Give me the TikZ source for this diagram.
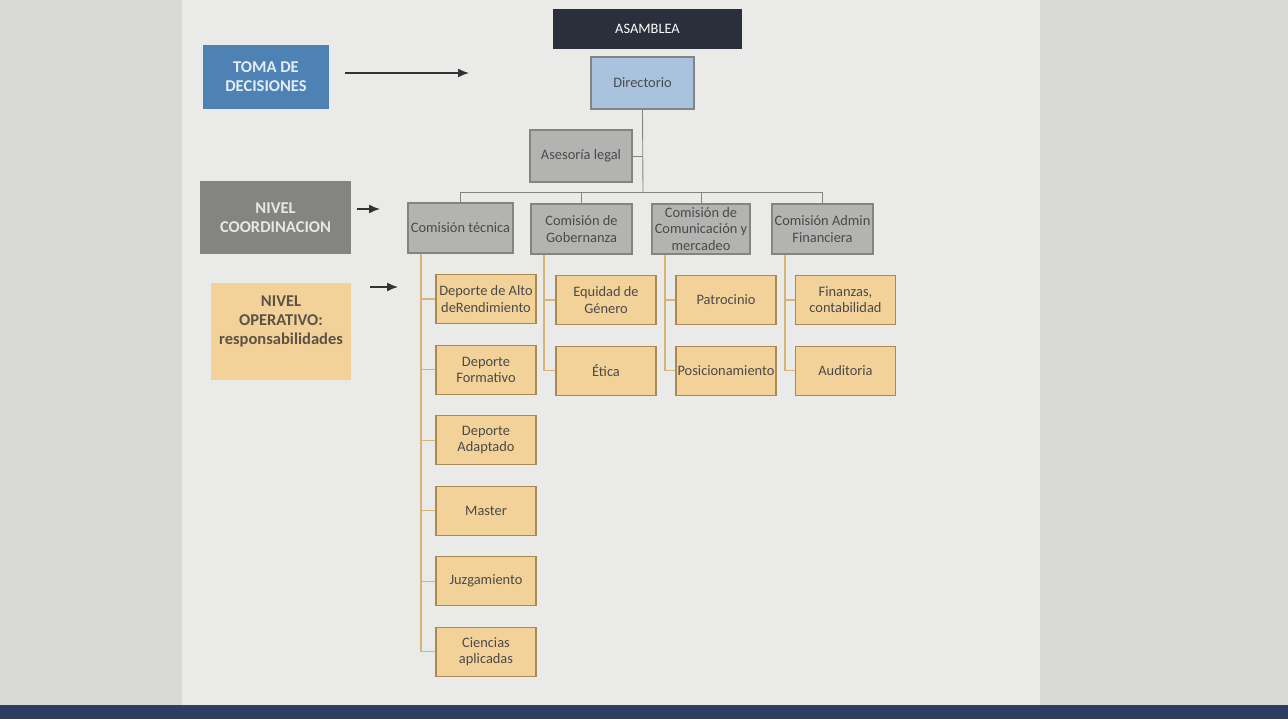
\documentclass[tikz,border=0pt]{standalone}
\usepackage{fontspec}
\setmainfont{Carlito}
\usepackage{xcolor}
\usetikzlibrary{positioning,calc,arrows.meta}
\definecolor{navy}{HTML}{2B2E3B}
\definecolor{blueunit}{HTML}{4F82B4}
\definecolor{lightblue}{HTML}{A9C3DF}
\definecolor{grayfill}{HTML}{B3B3B2}
\definecolor{darkgray}{HTML}{848483}
\definecolor{tanfill}{HTML}{F2D299}
\definecolor{tanborder}{HTML}{A98A55}
\definecolor{tanline}{HTML}{D9B574}
\definecolor{boxtext}{HTML}{4A4A4A}
\definecolor{desk}{HTML}{D9D9D7}
\definecolor{sheet}{HTML}{EAEAE8}
\definecolor{taskbar}{HTML}{2C3F62}
\newcommand{\boxfont}{\fontsize{8.2}{9.2}\selectfont}
\newcommand{\nivelfont}{\fontsize{9.4}{10.8}\selectfont\bfseries}
\tikzset{
	unit/.style={draw=darkgray, fill=grayfill, text=boxtext, align=center, font=\boxfont, inner sep=0.5pt, line width=0.6pt},
	comision/.style={unit, minimum height=1.0cm},
	area/.style={unit, fill=tanfill, draw=tanborder, minimum width=2.0cm, minimum height=0.98cm},
	nivel/.style={unit, font=\nivelfont, draw=none},
	topline/.style={draw=darkgray, line width=0.5pt},
	subline/.style={draw=tanline, line width=0.6pt},
	levelarrow/.style={draw=black!80, line width=0.8pt, -{Latex[length=0.22cm,width=0.18cm]}}
}
\newcommand{\connectarea}[2]{
	\draw[subline] ($(#1.south west)+(0.27cm,0)$) |- (#2.west);
}

\begin{document}
\begin{tikzpicture}[x=0.02cm, y=-0.02cm]
	% fondo
	\fill[desk] (0,0) rectangle (1288,719);
	\fill[sheet] (182,0) rectangle (1040,705);
	\fill[taskbar] (0,705) rectangle (1288,719);
	\useasboundingbox (0,0) rectangle (1288,719);

	% niveles
	\node[nivel, fill=blueunit, text=white!85!blueunit, minimum width=2.52cm, minimum height=1.28cm] (toma) at (266,77) {TOMA DE\\DECISIONES};
	\node[nivel, fill=darkgray, text=white!80!darkgray, minimum width=3.02cm, minimum height=1.46cm] (nivel-coord) at (275.5,217.5) {NIVEL\\COORDINACION};
	\node[nivel, fill=tanfill, text=boxtext!85!brown, minimum width=2.8cm, minimum height=1.94cm, text depth=0.45cm] (nivel-op) at (281,331.5) {NIVEL\\OPERATIVO:\\responsabilidades};

	\coordinate (toma-start) at (345,73);
	\coordinate (toma-end) at (469,73);
	\coordinate (coord-start) at (357,209);
	\coordinate (coord-end) at (380,209);
	\coordinate (op-start) at (370,287);
	\coordinate (op-end) at (398,287);
	\draw[levelarrow] (toma-start) -- (toma-end);
	\draw[levelarrow] (coord-start) -- (coord-end);
	\draw[levelarrow] (op-start) -- (op-end);

	% direccion
	\node[unit, fill=navy, draw=navy, text=white, minimum width=3.74cm, minimum height=0.76cm] (asamblea) at (647.5,29) {ASAMBLEA};
	\node[unit, fill=lightblue, draw=darkgray, minimum width=2.06cm, minimum height=1.04cm] (directorio) at (642.5,83) {Directorio};
	\node[unit, minimum width=2.04cm, minimum height=1.04cm] (asesoria) at (581,156) {Asesoría legal};

	% comisiones
	\node[comision, minimum width=2.1cm] (com-tecnica) at (460.5,228) {Comisión técnica};
	\node[comision, minimum width=2.02cm] (com-gobernanza) at (581.5,229) {Comisión de\\Gobernanza};
	\node[comision, minimum width=1.96cm] (com-comunicacion) at (701,229) {Comisión de\\Comunicación y\\mercadeo};
	\node[comision, minimum width=2.02cm] (com-admin) at (822.5,229) {Comisión Admin\\Financiera};

	\coordinate (bus) at (643,192);
	\draw[topline] (directorio.south) -- (bus);
	\draw[topline] (asesoria.east) -- (asesoria.east -| bus);
	\draw[topline] (bus) -| (com-tecnica.north);
	\draw[topline] (bus) -| (com-gobernanza.north);
	\draw[topline] (bus) -| (com-comunicacion.north);
	\draw[topline] (bus) -| (com-admin.north);

	% comision tecnica
	\node[area] (tec-1) at (486,299) {Deporte de Alto\\deRendimiento};
	\node[area, below=0.41cm of tec-1] (tec-2) {Deporte\\Formativo};
	\node[area, below=0.41cm of tec-2] (tec-3) {Deporte\\Adaptado};
	\node[area, below=0.41cm of tec-3] (tec-4) {Master};
	\node[area, below=0.41cm of tec-4] (tec-5) {Juzgamiento};
	\node[area, below=0.41cm of tec-5] (tec-6) {Ciencias\\aplicadas};

	% gobernanza
	\node[area] (gob-1) at (606,300) {Equidad de\\Género};
	\node[area, below=0.41cm of gob-1] (gob-2) {Ética};

	% comunicacion
	\node[area] (com-1) at (726,300) {Patrocinio};
	\node[area, below=0.41cm of com-1] (com-2) {Posicionamiento};

	% admin financiera
	\node[area] (adm-1) at (845.5,300) {Finanzas,\\contabilidad};
	\node[area, below=0.41cm of adm-1] (adm-2) {Auditoria};

	\connectarea{com-tecnica}{tec-1}
	\connectarea{com-tecnica}{tec-2}
	\connectarea{com-tecnica}{tec-3}
	\connectarea{com-tecnica}{tec-4}
	\connectarea{com-tecnica}{tec-5}
	\connectarea{com-tecnica}{tec-6}
	\connectarea{com-gobernanza}{gob-1}
	\connectarea{com-gobernanza}{gob-2}
	\connectarea{com-comunicacion}{com-1}
	\connectarea{com-comunicacion}{com-2}
	\connectarea{com-admin}{adm-1}
	\connectarea{com-admin}{adm-2}
\end{tikzpicture}
\end{document}
